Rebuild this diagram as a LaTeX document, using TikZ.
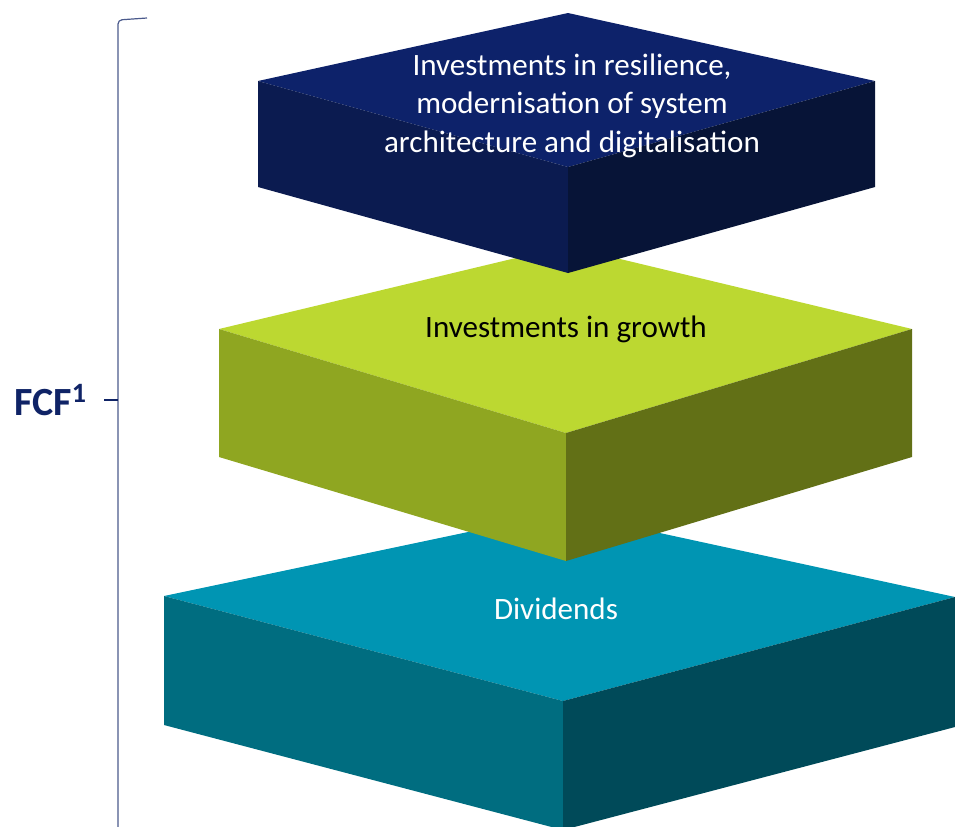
\documentclass[tikz,border=0pt]{standalone}
\usepackage{fontspec}
\setmainfont{Carlito}
\usepackage{tikz}

\definecolor{navytop}{HTML}{0D226A}
\definecolor{navyleft}{HTML}{0B1B50}
\definecolor{navyright}{HTML}{071437}
\definecolor{greentop}{HTML}{BCD831}
\definecolor{greenleft}{HTML}{8FA621}
\definecolor{greenright}{HTML}{627016}
\definecolor{tealtop}{HTML}{0095B3}
\definecolor{tealleft}{HTML}{006D80}
\definecolor{tealright}{HTML}{004A59}
\definecolor{fcfblue}{HTML}{0F2366}

\begin{document}
\begin{tikzpicture}[x=0.75pt, y=-0.75pt,
  layertext/.style={anchor=base, align=center, font=\fontsize{23.3}{28.7}\selectfont},
  bracket/.style={draw=fcfblue!75, line width=0.9pt}]

\useasboundingbox (0,0) rectangle (955,826);
\clip (0,0) rectangle (955,826);

% bottom layer
\fill[tealtop] (563,512) -- (955,597) -- (563,701) -- (164,596) -- cycle;
\fill[tealleft] (164,596) -- (563,701) -- (563,830) -- (164,725) -- cycle;
\fill[tealright] (563,701) -- (955,597) -- (955,727) -- (563,830) -- cycle;

\node[layertext, text=white] (dividends) at (556,619) {Dividends};

% middle layer
\fill[greentop] (566,246) -- (912,329) -- (566,433) -- (219,329) -- cycle;
\fill[greenleft] (219,329) -- (566,433) -- (566,561) -- (219,457) -- cycle;
\fill[greenright] (566,433) -- (912,329) -- (912,457) -- (566,561) -- cycle;

\node[layertext, text=black] (growth) at (566,337) {Investments in growth};

% top layer
\fill[navytop] (568,13) -- (875,81) -- (568,167) -- (258,81) -- cycle;
\fill[navyleft] (258,81) -- (568,167) -- (568,273) -- (258,187) -- cycle;
\fill[navyright] (568,167) -- (875,81) -- (875,187) -- (568,273) -- cycle;

% base = last line
\node[layertext, text=white] (resilience) at (572,152)
  {Investments in resilience,\\modernisation of system\\architecture and digitalisation};

% bracket
\draw[bracket, rounded corners=3pt] (147,18) -- (118,20) -- (118,830);
\draw[bracket, draw=fcfblue] (104,400) -- (118,400);

\node[anchor=base west, text=fcfblue, font=\fontsize{30}{36}\selectfont\bfseries, inner sep=0pt]
  (fcf) at (14,415) {FCF\textsuperscript{1}};

\end{tikzpicture}
\end{document}
